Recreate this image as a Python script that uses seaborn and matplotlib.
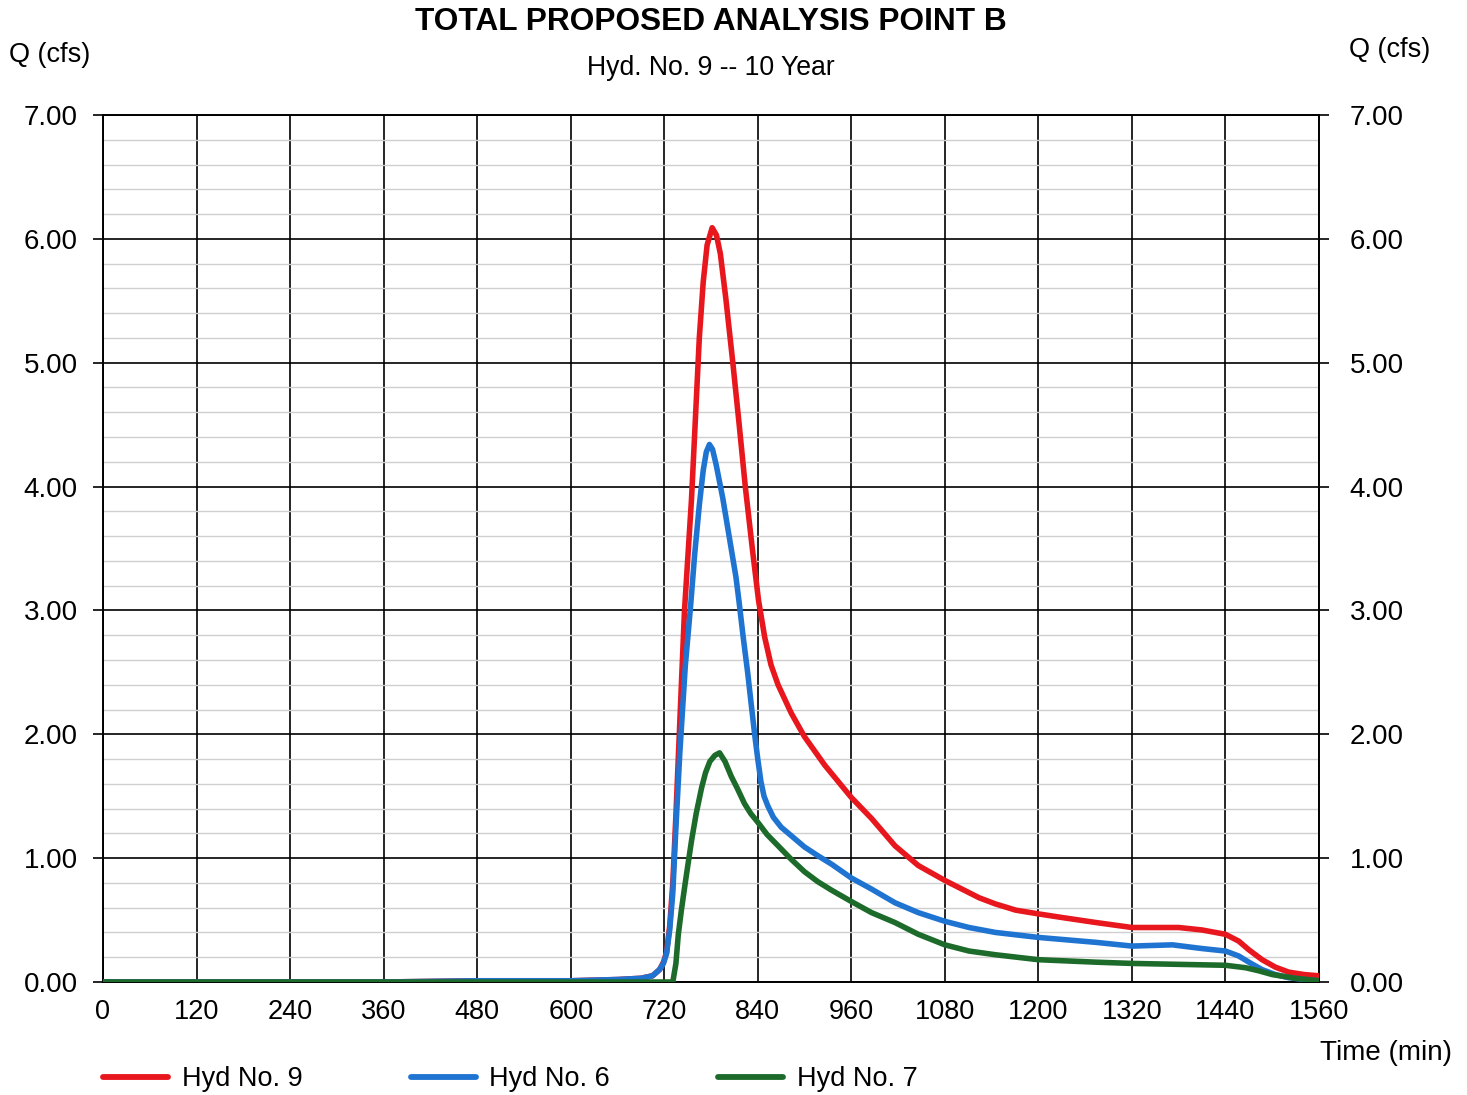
import numpy as np
import pandas as pd
import matplotlib
matplotlib.use("Agg")
import matplotlib.pyplot as plt
from matplotlib.ticker import MultipleLocator, FixedLocator, NullLocator
import seaborn as sns

# ---- data ----
t_hyd9 = [0, 120, 240, 360, 480, 600, 660, 690, 705, 714, 719, 723, 727, 731, 735, 740, 746, 755,
          760, 765, 770, 775, 781.5, 787, 792, 799, 808, 816, 824, 833, 841, 849, 857, 866, 883,
          900, 926, 960, 986, 1016, 1046, 1080, 1102, 1124, 1145, 1171, 1200, 1231, 1274, 1320,
          1338, 1380, 1410, 1440, 1457, 1470, 1487, 1504, 1521, 1541, 1560]
q_hyd9 = [0.0, 0.0, 0.0, 0.0, 0.01, 0.01, 0.02, 0.03, 0.05, 0.10, 0.16, 0.24, 0.45, 0.80, 1.35,
          2.10, 3.00, 3.90, 4.55, 5.20, 5.65, 5.95, 6.09, 6.03, 5.88, 5.52, 5.00, 4.51, 4.00, 3.50,
          3.08, 2.78, 2.56, 2.40, 2.17, 1.98, 1.75, 1.49, 1.32, 1.10, 0.94, 0.82, 0.75, 0.68, 0.63,
          0.58, 0.55, 0.52, 0.48, 0.44, 0.44, 0.44, 0.42, 0.385, 0.33, 0.26, 0.18, 0.12, 0.08,
          0.06, 0.05]

t_hyd6 = [0, 120, 240, 360, 480, 600, 660, 690, 705, 714, 719, 723, 727, 731, 735, 740, 747, 754,
          759, 765, 770, 774, 778, 782, 786.5, 795, 803.5, 812, 816, 821, 827, 832, 836, 840, 844,
          848, 853, 860, 870, 885, 900, 917, 935, 960, 986, 1016, 1046, 1080, 1111, 1145, 1200,
          1274, 1320, 1372, 1410, 1440, 1457, 1470, 1487, 1504, 1521, 1541, 1560]
q_hyd6 = [0.0, 0.0, 0.0, 0.0, 0.01, 0.01, 0.02, 0.03, 0.05, 0.10, 0.15, 0.23, 0.42, 0.72, 1.25,
          1.85, 2.55, 3.05, 3.45, 3.85, 4.13, 4.28, 4.34, 4.30, 4.18, 3.91, 3.59, 3.27, 3.07, 2.80,
          2.50, 2.22, 2.00, 1.80, 1.62, 1.50, 1.42, 1.33, 1.25, 1.17, 1.09, 1.02, 0.95, 0.84, 0.75,
          0.64, 0.56, 0.49, 0.44, 0.40, 0.36, 0.32, 0.29, 0.30, 0.27, 0.25, 0.21, 0.16, 0.10, 0.06,
          0.035, 0.02, 0.01]

t_hyd7 = [0, 600, 720, 731, 735, 738, 742, 746.5, 750, 755, 761, 768, 773, 778.5, 785, 791, 798,
          806, 814, 823, 831, 840, 852, 866, 883, 900, 917, 935, 960, 986, 1016, 1046, 1080, 1111,
          1145, 1200, 1274, 1320, 1440, 1466, 1483, 1500, 1530, 1560]
q_hyd7 = [0.0, 0.0, 0.0, 0.0, 0.15, 0.38, 0.58, 0.78, 0.93, 1.14, 1.36, 1.57, 1.69, 1.78, 1.83,
          1.85, 1.78, 1.66, 1.56, 1.44, 1.36, 1.29, 1.19, 1.10, 0.99, 0.89, 0.81, 0.74, 0.65, 0.56,
          0.48, 0.385, 0.30, 0.25, 0.22, 0.18, 0.16, 0.15, 0.135, 0.115, 0.09, 0.06, 0.03, 0.01]

series_names = ["Hyd No. 9", "Hyd No. 6", "Hyd No. 7"]
x_ticks = [0, 120, 240, 360, 480, 600, 720, 840, 960, 1080, 1200, 1320, 1440, 1560]
y_ticks = [0, 1, 2, 3, 4, 5, 6, 7]

title = "TOTAL PROPOSED ANALYSIS POINT B"
subtitle = "Hyd. No. 9 -- 10 Year"

df = pd.concat([
    pd.DataFrame({"t": t_hyd9, "q": q_hyd9, "hyd": series_names[0]}),
    pd.DataFrame({"t": t_hyd6, "q": q_hyd6, "hyd": series_names[1]}),
    pd.DataFrame({"t": t_hyd7, "q": q_hyd7, "hyd": series_names[2]}),
], ignore_index=True)

sns.set_style("white")
plt.rcParams["font.family"] = ["Liberation Sans", "DejaVu Sans"]
plt.rcParams["text.color"] = "black"
plt.rcParams["xtick.color"] = "black"
plt.rcParams["ytick.color"] = "black"
plt.rcParams["xtick.labelcolor"] = "black"
plt.rcParams["ytick.labelcolor"] = "black"

W, H = 1467, 1095
fig = plt.figure(figsize=(W / 100, H / 100), dpi=100)
ax = fig.add_axes([103 / W, 1 - 982 / H, (1319 - 103) / W, (982 - 115) / H])

palette = {"Hyd No. 9": "#e8161d", "Hyd No. 6": "#1f74d2", "Hyd No. 7": "#1d6b2a"}
sns.lineplot(data=df, x="t", y="q", hue="hyd", hue_order=series_names, palette=palette,
             lw=4.0, ax=ax, legend=True, zorder=5, sort=False,
             solid_joinstyle="round", solid_capstyle="round")

ax.set_xlim(0, 1560)
ax.set_ylim(0, 7)
ax.xaxis.set_major_locator(FixedLocator(x_ticks))
ax.yaxis.set_major_locator(FixedLocator(y_ticks))
ax.yaxis.set_minor_locator(MultipleLocator(0.2))
ax.set_xticklabels([str(v) for v in x_ticks])
ax.set_yticklabels([f"{v:.2f}" for v in y_ticks])
ax.set_xlabel("")
ax.set_ylabel("")

ax.grid(which="major", color="black", lw=1.2, zorder=1)
ax.grid(which="minor", axis="y", color="#cfcfcf", lw=1.0, zorder=0)
ax.set_axisbelow(True)
for s in ax.spines.values():
    s.set_color("black")
    s.set_linewidth(1.4)

ax2 = ax.twinx()
ax2.set_ylim(0, 7)
ax2.yaxis.set_major_locator(FixedLocator(y_ticks))
ax2.yaxis.set_minor_locator(NullLocator())
ax2.set_yticklabels([f"{v:.2f}" for v in y_ticks])
ax2.tick_params(axis="y", which="major", right=True, length=7, width=1.2, labelsize=20, pad=15)
ax2.grid(False)
for s in ax2.spines.values():
    s.set_visible(False)

# tick styling on the main axes (after twinx, which resets tick sides)
ax.tick_params(axis="y", which="major", left=True, right=False, labelleft=True, labelright=False,
               length=7, width=1.2, labelsize=20, pad=11)
ax.tick_params(axis="y", which="minor", left=False, right=False, length=0)
ax.tick_params(axis="x", which="major", bottom=False, length=0, labelsize=19.5, pad=12)

handles, labels = ax.get_legend_handles_labels()
ax.get_legend().remove()
for h in handles:
    h.set_linewidth(4.2)
fig.legend(handles, labels, loc="center left", bbox_to_anchor=(103 / W, 1 - 1079 / H),
           ncol=3, frameon=False, fontsize=19.5, handlelength=2.4, handletextpad=0.5,
           columnspacing=4.0, borderpad=0, borderaxespad=0)

fig.text(711 / W, 1 - 22 / H, title, ha="center", va="center", fontsize=22.8, fontweight="bold")
fig.text(711 / W, 1 - 68 / H, subtitle, ha="center", va="center", fontsize=19.2)
fig.text(50 / W, 1 - 55 / H, "Q (cfs)", ha="center", va="center", fontsize=19.5)
fig.text(1390 / W, 1 - 50 / H, "Q (cfs)", ha="center", va="center", fontsize=19.5)
fig.text(1386 / W, 1 - 1053 / H, "Time (min)", ha="center", va="center", fontsize=20)

fig.savefig("out.png", dpi=100, facecolor="white")
